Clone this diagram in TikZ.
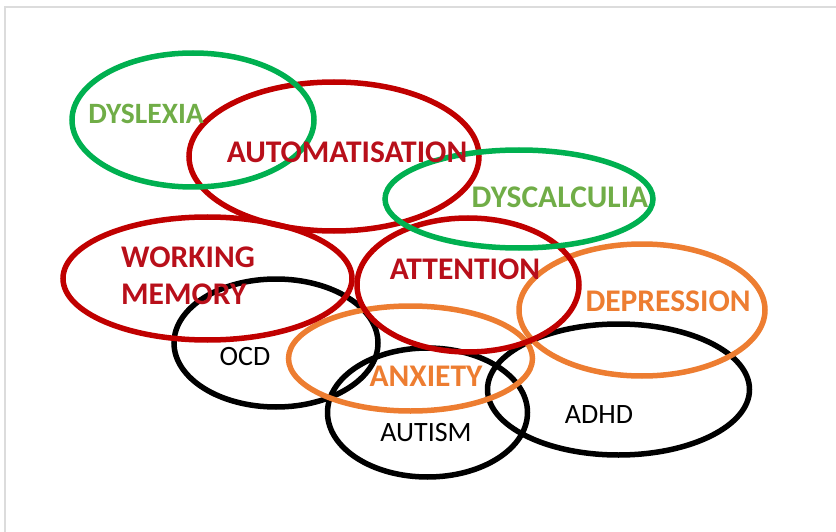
\documentclass[tikz,border=0pt]{standalone}
\usepackage{fontspec}
\setmainfont{Carlito}
\usetikzlibrary{calc}
\definecolor{ringred}{HTML}{C00000}
\definecolor{ringgreen}{HTML}{00B050}
\definecolor{ringorange}{HTML}{ED7D31}
\definecolor{textgreen}{HTML}{70AD47}
\definecolor{textred}{HTML}{B80F1A}
\definecolor{framegray}{HTML}{DCDCDC}
\tikzset {
    ring/.style = {line width = 5.5pt},
    red ring/.style = {ring, draw = ringred},
    green ring/.style = {ring, draw = ringgreen},
    orange ring/.style = {ring, draw = ringorange},
    black ring/.style = {ring, draw = black},
    %
    bold label/.style = {
        inner sep = 0pt,
        font = \fontsize{31.5}{37}\selectfont\bfseries
    },
    plain label/.style = {
        inner sep = 0pt,
        text = black,
        font = \fontsize{28}{32}\selectfont
    },
    green label/.style = {bold label, text = textgreen},
    red label/.style = {bold label, text = textred},
    orange label/.style = {bold label, text = ringorange},
}

\begin{document}
\begin{tikzpicture}[x = 1pt, y = -1pt]
    \useasboundingbox (0, 0) rectangle (836, 532);
    \draw [framegray, line width = 1.5pt] (5, 532) -- (5, 7) -- (836, 7);
    % disorders
    \draw [black ring] (276, 343) ellipse [x radius = 102, y radius = 64];
    \draw [black ring] (427.5, 412.5) ellipse [x radius = 100, y radius = 64.5];
    \draw [black ring] (618.5, 389.5) ellipse [x radius = 131, y radius = 65.5];
    \draw [orange ring] (410.5, 358.5) ellipse [x radius = 122, y radius = 52.5];
    \draw [orange ring] (642, 310) ellipse [x radius = 123, y radius = 66];
    % processes
    \draw [red ring] (334, 156.5) ellipse [x radius = 145, y radius = 74.5];
    \draw [red ring] (207.5, 278.5) ellipse [x radius = 144.5, y radius = 61.5];
    \draw [red ring] (468, 285) ellipse [x radius = 111, y radius = 67];
    % learning difficulties
    \draw [green ring] (193, 120) ellipse [x radius = 121, y radius = 67];
    \draw [green ring] (519, 199) ellipse [x radius = 134, y radius = 49];
    % labels
    \node (dyslexia) [green label, font = \fontsize{29.5}{37}\selectfont\bfseries]
        at (146, 113.5) {DYSLEXIA};
    \node (dyscalculia) [green label] at (560, 197) {DYSCALCULIA};
    \node (automatisation) [red label] at (347, 152) {AUTOMATISATION};
    \node (memory) [red label, anchor = west, align = left] at (121, 276)
        {WORKING\\MEMORY};
    \node (attention) [red label] at (465, 269) {ATTENTION};
    \node (depression) [orange label] at (668, 301) {DEPRESSION};
    \node (anxiety) [orange label] at (426, 376) {ANXIETY};
    \node (ocd) [plain label] at (245, 357) {OCD};
    \node (autism) [plain label] at (426, 433) {AUTISM};
    \node (adhd) [plain label] at (599, 415) {ADHD};
\end{tikzpicture}
\end{document}
